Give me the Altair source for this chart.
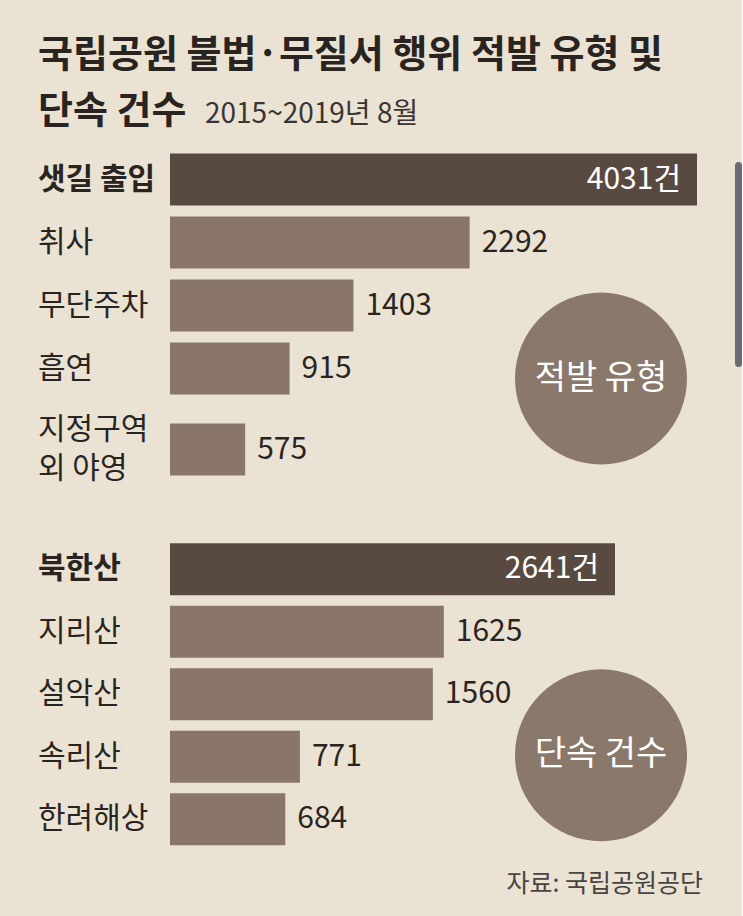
import math
import altair as alt
import pandas as pd

# ---- data ----
type_cats = ["샛길 출입", "취사", "무단주차", "흡연", "지정구역\n외 야영"]
type_counts = [4031, 2292, 1403, 915, 575]
park_cats = ["북한산", "지리산", "설악산", "속리산", "한려해상"]
park_counts = [2641, 1625, 1560, 771, 684]

title_line1 = "국립공원 불법·무질서 행위 적발 유형 및"
title_line2 = "단속 건수"
subtitle = "2015~2019년 8월"
circle_labels = ["적발 유형", "단속 건수"]
source = "자료: 국립공원공단"
unit = "건"

# ---- style ----
BG = "#eae2d3"
DARK = "#594a41"
LIGHT = "#897668"
CIRC = "#8a786b"
TXT = "#2a2421"
SCROLL = "#6d6a73"
KR = "Noto Sans CJK KR"
NUM = "Noto Sans CJK KR"
LH = 39


def make_df(cats, counts, tops):
    return pd.DataFrame({
        "cat": cats,
        "count": counts,
        "top": tops,
        "lines": [c.count("\n") + 1 for c in cats],
        "label": [f"{c}{unit}" if t else str(c) for c, t in zip(counts, tops)],
    })


def panel(df, cats, dmax, scale_kw):
    base = alt.Chart(df)
    y = alt.Y("cat:N", axis=None, scale=alt.Scale(domain=cats, **scale_kw))
    x = alt.X("count:Q", axis=None,
              scale=alt.Scale(domain=[0, dmax], nice=False, zero=True))
    layers = [
        base.transform_filter("datum.top").mark_bar(color=DARK).encode(x=x, y=y),
        base.transform_filter("!datum.top").mark_bar(color=LIGHT).encode(x=x, y=y),
    ]
    # category labels, multi-line blocks centred on their bar
    for n in sorted(set(df["lines"])):
        for is_top in (False, True):
            flt = f"datum.lines == {n} && {'datum.top' if is_top else '!datum.top'}"
            layers.append(base.transform_filter(flt).mark_text(
                align="left", baseline="middle", font=KR, fontSize=30, color=TXT,
                fontWeight="bold" if is_top else "normal",
                lineBreak="\n", lineHeight=LH, dy=-(n - 1) * LH / 2
            ).encode(x=alt.value(-132), y=y, text="cat:N"))
    layers.append(base.transform_filter("!datum.top").mark_text(
        align="left", baseline="middle", dx=12, font=NUM, fontSize=30, color=TXT
    ).encode(x=x, y=y, text="label:N"))
    layers.append(base.transform_filter("datum.top").mark_text(
        align="right", baseline="middle", dx=-16, font=NUM, fontSize=30, color="white"
    ).encode(x=x, y=y, text="label:N"))
    return layers


def circle_layers(label, cy):
    cdf = pd.DataFrame({"t": [label]})
    c = alt.Chart(cdf).mark_circle(color=CIRC, opacity=1, size=172 ** 2).encode(
        x=alt.value(431), y=alt.value(cy))
    t = alt.Chart(cdf).mark_text(
        align="center", baseline="middle", font=KR, fontSize=34, color="white"
    ).encode(x=alt.value(431), y=alt.value(cy), text="t:N")
    return [c, t]


type_top = [c == max(type_counts) for c in type_counts]
park_top = [c == max(park_counts) for c in park_counts]

dfA = make_df(type_cats[:4], type_counts[:4], type_top[:4])
dfB = make_df(type_cats[4:], type_counts[4:], type_top[4:])
dfC = make_df(park_cats, park_counts, park_top)

# titles (drawn in the first panel, above its plot area)
t1 = alt.Chart(pd.DataFrame({"t": [title_line1]})).mark_text(
    align="left", baseline="alphabetic", font=KR, fontSize=38, fontWeight="bold", color=TXT
).encode(x=alt.value(-132), y=alt.value(-81.5), text="t:N")
t2 = alt.Chart(pd.DataFrame({"t": [title_line2]})).mark_text(
    align="left", baseline="alphabetic", font=KR, fontSize=38, fontWeight="bold", color=TXT
).encode(x=alt.value(-132), y=alt.value(-25.5), text="t:N")
st = alt.Chart(pd.DataFrame({"t": [subtitle]})).mark_text(
    align="left", baseline="alphabetic", font=NUM, fontSize=28, color="#3b3431"
).encode(x=alt.value(35), y=alt.value(-25.5), text="t:N")
scroll = alt.Chart(pd.DataFrame({"a": [0]})).mark_rule(
    strokeWidth=7, strokeCap="round", color=SCROLL
).encode(x=alt.value(568.5), y=alt.value(17.5), y2=alt.value(215.5))

A = alt.layer(
    *panel(dfA, type_cats[:4], 4031, dict(paddingInner=11 / 63, paddingOuter=5.5 / 63)),
    *circle_layers(circle_labels[0], 230.5),
    t1, t2, st, scroll,
).properties(width=527, height=252)

B = alt.layer(
    *panel(dfB, type_cats[4:], 4031,
           dict(paddingInner=0, paddingOuter=0.4736, align=0.1117)),
).properties(width=527, height=101.25)

src = alt.Chart(pd.DataFrame({"t": [source]})).mark_text(
    align="right", baseline="alphabetic", font=KR, fontSize=25, color="#4a433f"
).encode(x=alt.value(533), y=alt.value(354.25), text="t:N")

C = alt.layer(
    *panel(dfC, park_cats, 2641, dict(paddingInner=10.5 / 62.5, paddingOuter=5.25 / 62.5)),
    *circle_layers(circle_labels[1], 217.25),
    src,
).properties(width=445, height=312.5)

chart = alt.vconcat(A, B, C, spacing=18, bounds="flush").resolve_scale(
    x="independent", y="independent"
).properties(
    background=BG,
    padding={"left": 38, "top": 36, "right": 0, "bottom": 20},
).configure_view(stroke=None)

chart.save("out.html", embed_options={"renderer": "svg", "actions": False})
